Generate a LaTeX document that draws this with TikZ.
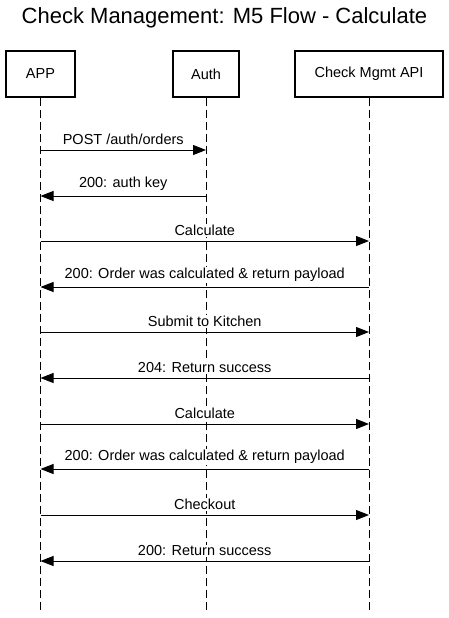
\documentclass[tikz,border=0pt]{standalone}
\usepackage{fontspec}
\setmainfont{Liberation Sans}
\usetikzlibrary{positioning}
\usetikzlibrary{arrows.meta}

\begin{document}
\begin{tikzpicture}[
			x=1pt, y=-1pt,
			font=\fontsize{14.5}{17}\selectfont,
			actor/.style={draw, line width=2pt, minimum height=45pt, inner sep=0pt},
			lifeline/.style={dash pattern=on 8pt off 4pt, line width=1pt},
			msg/.style={line width=1pt, -{Triangle[length=13pt,width=10pt]}},
			lbl/.style={above=3.5pt, fill=white, inner sep=1pt}
		]
			\useasboundingbox (0,0) rectangle (449,618);
			\node[font=\fontsize{22}{26}\selectfont] (title) at (224.5,18) {Check Management: M5 Flow - Calculate};
			\node[actor, minimum width=69pt] (app) at (40.5,74) {APP};
			\node[actor, minimum width=66pt] (auth) at (206,74) {Auth};
			\node[actor, minimum width=148pt] (api) at (369,74) {Check Mgmt API};
			\coordinate (append) at (40.5,612);
			\coordinate (authend) at (206,612);
			\coordinate (apiend) at (369,612);
			\draw[lifeline] (app) -- (append);
			\draw[lifeline] (auth) -- (authend);
			\draw[lifeline] (api) -- (apiend);
			% auth
			\draw[msg] (app |- 0,150) -- node[lbl] {POST /auth/orders} (auth |- 0,150);
			\draw[msg] (auth |- 0,196) -- node[lbl] {200: auth key} (app |- 0,196);
			% orders
			\draw[msg] (app |- 0,241) -- node[lbl] {Calculate} (api |- 0,241);
			\draw[msg] (api |- 0,287) -- node[lbl] {200: Order was calculated \& return payload} (app |- 0,287);
			\draw[msg] (app |- 0,332) -- node[lbl] {Submit to Kitchen} (api |- 0,332);
			\draw[msg] (api |- 0,378) -- node[lbl] {204: Return success} (app |- 0,378);
			\draw[msg] (app |- 0,424) -- node[lbl] {Calculate} (api |- 0,424);
			\draw[msg] (api |- 0,469) -- node[lbl] {200: Order was calculated \& return payload} (app |- 0,469);
			\draw[msg] (app |- 0,515) -- node[lbl] {Checkout} (api |- 0,515);
			\draw[msg] (api |- 0,561) -- node[lbl] {200: Return success} (app |- 0,561);
		\end{tikzpicture}
\end{document}
